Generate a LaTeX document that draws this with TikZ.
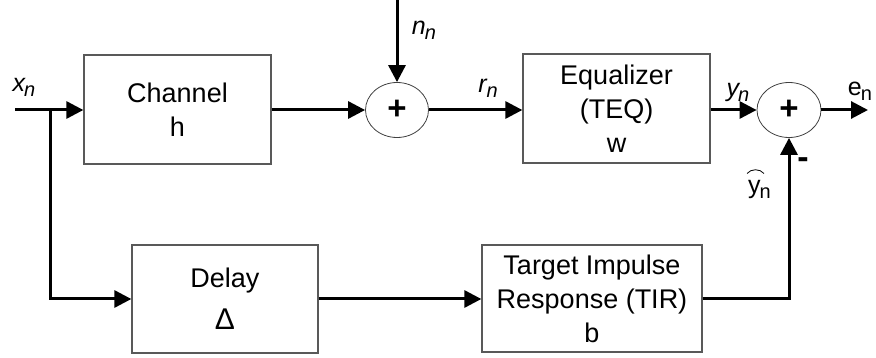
\documentclass[tikz,border=0pt]{standalone}
\usepackage{fontspec}
\setmainfont{Liberation Sans}
\usetikzlibrary{arrows.meta,shapes.geometric}
\newcommand{\sgsub}[1]{\raisebox{-5pt}{\fontsize{20}{20}\selectfont #1}}
\begin{document}
\begin{tikzpicture}[x=1pt,y=-1pt,
  every node/.style={font=\fontsize{27}{34}\selectfont},
  block/.style={draw=black!65,line width=1.3pt,rectangle,align=center,inner sep=0pt},
  summer/.style={draw=black!75,line width=0.8pt,ellipse,inner sep=0pt,minimum width=63pt,minimum height=55pt},
  sig/.style={line width=3pt,-{Triangle[length=17pt,width=17pt]}},
  lbl/.style={inner sep=0pt,font=\fontsize{25}{25}\selectfont}]
\useasboundingbox (0,0) rectangle (876,358);

% blocks
\node[block,minimum width=187pt,minimum height=109pt] (chan) at (177.5,109.5) {Channel\\h};
\node[block,minimum width=187pt,minimum height=109pt] (eq) at (616.5,108.5) {Equalizer\\(TEQ)\\w};
\node[block,minimum width=186pt,minimum height=108pt] (delay) at (225,299) {Delay\\[8pt]{\fontsize{30}{30}\selectfont Δ}};
\node[block,minimum width=220pt,minimum height=107pt] (tir) at (592,298.5) {Target Impulse\\Response (TIR)\\b};

% adders
\node[summer] (s1) at (397,110) {\fontsize{33}{33}\selectfont\bfseries +};
\node[summer,minimum width=64pt] (s2) at (789,110) {\fontsize{33}{33}\selectfont\bfseries +};

% free ends
\coordinate (xin) at (15,110);
\coordinate (br) at (50,110);
\coordinate (ntop) at (397,0);
\coordinate (eout) at (868,110);

% connectors
\draw[sig] (xin) -- (chan.west |- xin);
\draw[sig] (br) |- (delay.west);
\draw[sig] (chan.east |- s1.west) -- (s1.west);
\draw[sig] (ntop) -- (s1.north);
\draw[sig] (s1.east) -- (eq.west |- s1.east);
\draw[sig] (eq.east |- s2.west) -- (s2.west);
\draw[sig] (s2.east) -- (eout);
\draw[sig] (delay.east) -- (tir.west |- delay.east);
\draw[sig] (tir.east) -| (s2.south);

% signal labels
\node[lbl] (lx) at (24,87) {\itshape x\kern-1pt\sgsub{n}};
\node[lbl] (ln) at (424,30) {\itshape n\kern-1pt\sgsub{n}};
\node[lbl] (lr) at (488,88) {\itshape r\sgsub{n}};
\node[lbl] (ly) at (738,92) {\itshape y\kern-1pt\sgsub{n}};
\node[lbl] (le) at (860,91) {e\kern-1pt\sgsub{n}};
\node[lbl,anchor=base west] (lyh) at (748,194) {y\kern-1pt\sgsub{n}};
% wide hat over the estimate's y
\draw[line width=0.8pt] (747,173.5) .. controls (751,168.5) and (760,168.5) .. (764,173.5);
\node[lbl] (lm) at (803,163) {\fontsize{34}{34}\selectfont\bfseries -};
\end{tikzpicture}
\end{document}
